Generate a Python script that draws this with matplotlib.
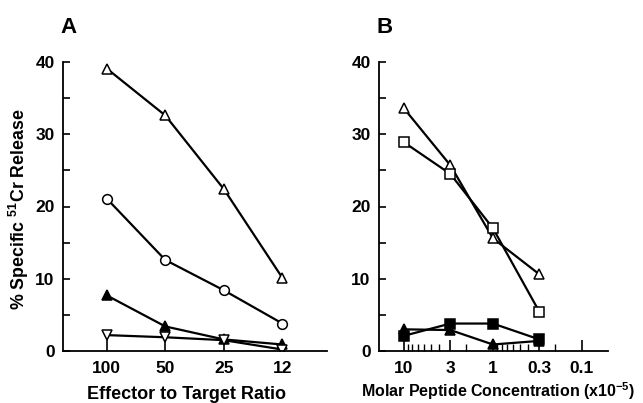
import matplotlib
matplotlib.use("Agg")
import matplotlib.pyplot as plt
from matplotlib.ticker import FixedLocator, NullFormatter

plt.rcParams['font.family'] = ['Liberation Sans', 'DejaVu Sans']
plt.rcParams['mathtext.fontset'] = 'custom'
plt.rcParams['mathtext.rm'] = 'Liberation Sans:bold'
plt.rcParams['mathtext.it'] = 'Liberation Sans:bold'
plt.rcParams['mathtext.bf'] = 'Liberation Sans:bold'
plt.rcParams['mathtext.default'] = 'rm'

# Panel A data
ratio_labels = ["100", "50", "25", "12"]
a_open_tri = [39.1, 32.6, 22.4, 10.1]
a_open_circ = [21.1, 12.6, 8.4, 3.8]
a_fill_tri = [7.7, 3.4, 1.6, 0.9]
a_open_tri_down = [2.2, 1.9, 1.5, 0.2]

# Panel B data
conc = [10, 3, 1, 0.3]
b_open_tri = [33.6, 25.7, 15.6, 10.6]
b_open_sq = [28.9, 24.5, 17.0, 5.4]
b_fill_sq = [2.1, 3.8, 3.8, 1.6]
b_fill_tri = [3.0, 2.9, 0.9, 1.4]

conc_major = [10, 3, 1, 0.3, 0.1]
conc_major_labels = ["10", "3", "1", "0.3", "0.1"]
conc_minor = [9, 8, 7, 6, 5, 4, 2, 0.9, 0.8, 0.7, 0.6, 0.5, 0.4, 0.2]

fig = plt.figure(figsize=(6.43, 4.03), dpi=100)
bottom = 1 - 351 / 403
top = 1 - 62 / 403
axA = fig.add_axes([63 / 643, bottom, (327 - 63) / 643, top - bottom])
axB = fig.add_axes([379 / 643, bottom, (608 - 379) / 643, top - bottom])

lw = 1.6
ms = 7
common = dict(color='black', lw=lw, ms=ms, mec='black', mew=1.1)

xa = list(range(len(ratio_labels)))
axA.plot(xa, a_open_tri, marker='^', mfc='white', **common)
axA.plot(xa, a_open_circ, marker='o', mfc='white', **common)
axA.plot(xa, a_fill_tri, marker='^', mfc='black', **common)
axA.plot(xa, a_open_tri_down, marker='v', mfc='white', **common)

axB.plot(conc, b_open_tri, marker='^', mfc='white', **common)
axB.plot(conc, b_open_sq, marker='s', mfc='white', ms=6.5, color='black', lw=lw, mec='black', mew=1.1)
axB.plot(conc, b_fill_tri, marker='^', mfc='black', **common)
axB.plot(conc, b_fill_sq, marker='s', mfc='black', ms=6.5, color='black', lw=lw, mec='black', mew=1.1)

tick_font = dict(fontsize=12.5, fontweight='bold')

for ax in (axA, axB):
    for s in ('top', 'right'):
        ax.spines[s].set_visible(False)
    for s in ('left', 'bottom'):
        ax.spines[s].set_linewidth(1.3)
    ax.set_ylim(0, 40)
    ax.set_yticks([0, 10, 20, 30, 40])
    ax.set_yticks([5, 15, 25, 35], minor=True)
    ax.set_yticklabels(["0", "10", "20", "30", "40"], **tick_font)
    ax.tick_params(axis='y', which='both', direction='in', length=5, width=1.2, pad=6)
    ax.tick_params(axis='x', which='major', direction='in', length=8, width=1.2, pad=7)
    ax.tick_params(axis='x', which='minor', direction='in', length=5, width=1.0)
    ax.patch.set_alpha(0)

axA.set_xlim(-0.746, 3.76)
axA.set_xticks(xa)
axA.set_xticklabels(ratio_labels, **tick_font)
axA.set_xlabel("Effector to Target Ratio", fontsize=13, fontweight='bold')
axA.xaxis.set_label_coords(0.468, -0.122)
axA.set_ylabel("% Specific $^{51}$Cr Release", fontsize=12.8, fontweight='bold')
axA.yaxis.set_label_coords(-0.122, 0.49)

axB.set_xscale('log')
axB.set_xlim(19, 0.051)
axB.xaxis.set_major_locator(FixedLocator(conc_major))
axB.set_xticklabels(conc_major_labels, **tick_font)
axB.xaxis.set_minor_locator(FixedLocator(conc_minor))
axB.xaxis.set_minor_formatter(NullFormatter())
axB.set_xlabel("Molar Peptide Concentration (x10$^{-5}$)", fontsize=11.5, fontweight='bold')
axB.xaxis.set_label_coords(0.52, -0.10)

fig.text(60 / 643, 1 - 33 / 403, "A", fontsize=16, fontweight='bold', ha='left', va='baseline')
fig.text(377 / 643, 1 - 33 / 403, "B", fontsize=16, fontweight='bold', ha='left', va='baseline')

fig.savefig("out.png", dpi=100)
